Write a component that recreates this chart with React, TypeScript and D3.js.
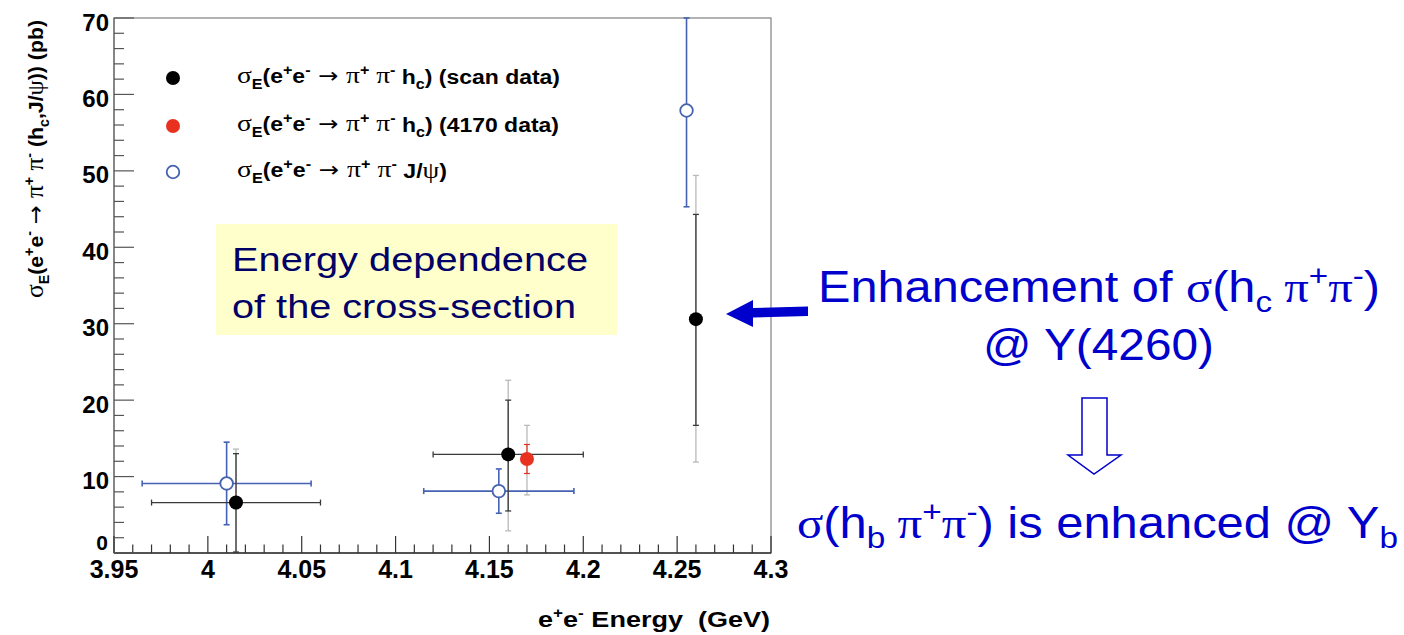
import React from 'react'
import * as d3 from 'd3'

// scan data (black): energy, x half-width, value, stat band, total band
const scanEnergy = [4.015, 4.16, 4.26]
const scanXErr = [0.045, 0.04, 0]
const scanSigma = [6.6, 12.9, 30.6]
const scanStatLo = [0.1, 5.5, 16.7]
const scanStatHi = [13.0, 20.0, 44.3]
const scanTotLo = [0.2, 2.9, 11.9]
const scanTotHi = [13.6, 22.6, 49.4]

// 4170 data (red)
const redEnergy = [4.17]
const redSigma = [12.3]
const redStatLo = [10.4]
const redStatHi = [14.2]
const redTotLo = [7.6]
const redTotHi = [16.7]

// J/psi (blue open)
const jpsiEnergy = [4.01, 4.155, 4.255]
const jpsiXErr = [0.045, 0.04, 0]
const jpsiSigma = [9.1, 8.1, 57.9]
const jpsiLo = [3.7, 5.2, 45.3]
const jpsiHi = [14.5, 11.0, 70]

const xTickLabels = ['3.95', '4', '4.05', '4.1', '4.15', '4.2', '4.25', '4.3']
const yTickLabels = ['0', '10', '20', '30', '40', '50', '60', '70']

const W = 1404
const H = 635
const left = 114, right = 771, top = 18, bottom = 553

const sans = 'Liberation Sans, Arial, Helvetica, sans-serif'
const serif = 'Liberation Serif, Times New Roman, serif'
const arrowFont = 'DejaVu Sans, sans-serif'
const BLUE = '#4562b3'
const RED = '#e8321f'
const GRAY = '#b9b9b9'
const TXTBLUE = '#0000cc'

const x = d3.scaleLinear().domain([3.95, 4.3]).range([left, right])
const y = d3.scaleLinear().domain([0, 70]).range([bottom, top])

function ErrBar({ cx, cy, xLo, xHi, yLo, yHi, color, sw, cap }: any) {
  const c = cap / 2
  return (
    <g stroke={color} strokeWidth={sw} fill="none">
      {yLo != null && (
        <>
          <line x1={cx} x2={cx} y1={y(yLo)} y2={y(yHi)} />
          <line x1={cx - c} x2={cx + c} y1={y(yLo)} y2={y(yLo)} />
          <line x1={cx - c} x2={cx + c} y1={y(yHi)} y2={y(yHi)} />
        </>
      )}
      {xLo != null && xHi > xLo && (
        <>
          <line x1={x(xLo)} x2={x(xHi)} y1={cy} y2={cy} />
          <line x1={x(xLo)} x2={x(xLo)} y1={cy - c} y2={cy + c} />
          <line x1={x(xHi)} x2={x(xHi)} y1={cy - c} y2={cy + c} />
        </>
      )}
    </g>
  )
}

// "σ_E(e+e- → π+ π-" prefix as tspans
function SigmaPrefix({ fs }: { fs: number }) {
  const sub = Math.round(fs * 0.68)
  const up = Math.round(fs * 0.42)
  const dn = Math.round(fs * 0.3)
  return (
    <>
      <tspan fontFamily={serif} fontWeight="normal" fontSize={fs * 1.2}>σ</tspan>
      <tspan fontSize={sub} dy={dn}>E</tspan>
      <tspan dy={-dn}>(e</tspan>
      <tspan fontSize={sub} dy={-up}>+</tspan>
      <tspan dy={up}>e</tspan>
      <tspan fontSize={sub} dy={-up}>-</tspan>
      <tspan dy={up} fontFamily={arrowFont} fontWeight="normal" fontSize={fs * 1.05}> → </tspan>
      <tspan fontFamily={serif} fontWeight="normal" fontSize={fs * 1.2}>π</tspan>
      <tspan fontSize={sub} dy={-up}>+</tspan>
      <tspan dy={up} fontFamily={serif} fontWeight="normal" fontSize={fs * 1.2}> π</tspan>
      <tspan fontSize={sub} dy={-up}>-</tspan>
    </>
  )
}

function LegendRow({ ly, kind, len, children }: any) {
  return (
    <g>
      {kind === 'black' && <circle cx={173} cy={ly} r={7} fill="#000" />}
      {kind === 'red' && <circle cx={173} cy={ly} r={7} fill={RED} />}
      {kind === 'blue' && <circle cx={173} cy={ly} r={6.3} fill="#fff" stroke={BLUE} strokeWidth={1.8} />}
      <text x={237} y={ly + 5} fontFamily={sans} fontWeight="bold" fontSize={20} fill="#000"
        textLength={len} lengthAdjust="spacingAndGlyphs">
        <SigmaPrefix fs={20} />
        {children}
      </text>
    </g>
  )
}

export default function App() {
  const xMinor = d3.range(0, 36).map(i => 3.95 + i * 0.01)
  const yMinor = d3.range(0, 36).map(i => i * 2)
  const sub = 14, up = 9, dn = 6

  return (
    <svg width={W} height={H} style={{ position: 'absolute', left: 0, top: 0, background: '#fff' }}>
      <rect width={W} height={H} fill="#fff" />

      {/* frame */}
      <rect x={left} y={top} width={right - left} height={bottom - top} fill="none" stroke="#8a8a8a" strokeWidth={1.3} />
      <line x1={left} x2={right} y1={bottom} y2={bottom} stroke="#333" strokeWidth={1.5} />
      <line x1={left} x2={left} y1={top} y2={bottom} stroke="#777" strokeWidth={1.5} />

      {/* x ticks */}
      {xMinor.map((v, i) => (
        <line key={'xt' + i} x1={x(v)} x2={x(v)} y1={bottom} y2={bottom - (i % 5 === 0 ? 17 : 8.5)} stroke="#333" strokeWidth={1.2} />
      ))}
      {/* y ticks */}
      {yMinor.map((v, i) => (
        <line key={'yt' + i} x1={left} x2={left + (i % 5 === 0 ? 20 : 10)} y1={y(v)} y2={y(v)} stroke="#555" strokeWidth={1.2} />
      ))}

      {xTickLabels.map(t => (
        <text key={'xl' + t} x={x(+t)} y={578} textAnchor="middle" fontFamily={sans} fontWeight="bold" fontSize={25} fill="#000">{t}</text>
      ))}
      {yTickLabels.map(t => (
        <text key={'yl' + t} x={t === '0' ? 108 : 109} y={y(+t) + (t === '0' ? -3 : 12.5)} textAnchor="end" fontFamily={sans} fontWeight="bold" fontSize={t === '0' ? 21 : 24} fill="#000">{t}</text>
      ))}

      {/* axis titles */}
      <text x={770} y={627} textAnchor="end" fontFamily={sans} fontWeight="bold" fontSize={22} fill="#000"
        textLength={232} lengthAdjust="spacingAndGlyphs">
        e<tspan fontSize={sub} dy={-up}>+</tspan><tspan dy={up}>e</tspan><tspan fontSize={sub} dy={-up}>-</tspan>
        <tspan dy={up} xmlSpace="preserve"> Energy  (GeV)</tspan>
      </text>
      <g transform="translate(43,298) rotate(-90)">
        <text x={0} y={0} fontFamily={sans} fontWeight="bold" fontSize={21} fill="#000" textLength={278} lengthAdjust="spacingAndGlyphs">
          <SigmaPrefix fs={21} />
          <tspan dy={9}> (h</tspan>
          <tspan fontSize={14} dy={6}>c</tspan>
          <tspan dy={-6}>,J/</tspan>
          <tspan fontFamily={serif} fontWeight="normal" fontSize={24}>ψ</tspan>
          <tspan>)) (pb)</tspan>
        </text>
      </g>

      {/* annotation box */}
      <rect x={216} y={224} width={401} height={111} fill="#ffffcc" />
      <text x={232} y={271} fontFamily={sans} fontSize={34} fill="#000066" textLength={356} lengthAdjust="spacingAndGlyphs">Energy dependence</text>
      <text x={232} y={318} fontFamily={sans} fontSize={34} fill="#000066" textLength={344} lengthAdjust="spacingAndGlyphs">of the cross-section</text>

      {/* legend */}
      <LegendRow ly={78} kind="black" len={323}>
        <tspan dy={up}> h</tspan><tspan fontSize={sub} dy={dn - 1}>c</tspan><tspan dy={-dn + 1}>) (scan data)</tspan>
      </LegendRow>
      <LegendRow ly={126} kind="red" len={322}>
        <tspan dy={up}> h</tspan><tspan fontSize={sub} dy={dn - 1}>c</tspan><tspan dy={-dn + 1}>) (4170 data)</tspan>
      </LegendRow>
      <LegendRow ly={172} kind="blue" len={210}>
        <tspan dy={up}> J/</tspan><tspan fontFamily={serif} fontWeight="normal" fontSize={23}>ψ</tspan><tspan>)</tspan>
      </LegendRow>

      {/* total (systematic) error bars in gray */}
      {scanEnergy.map((e, i) => (
        <ErrBar key={'sg' + i} cx={x(e)} cy={y(scanSigma[i])} yLo={scanTotLo[i]} yHi={scanTotHi[i]} color={GRAY} sw={1.3} cap={6} />
      ))}
      {redEnergy.map((e, i) => (
        <ErrBar key={'rg' + i} cx={x(e)} cy={y(redSigma[i])} yLo={redTotLo[i]} yHi={redTotHi[i]} color={GRAY} sw={1.3} cap={6} />
      ))}

      {/* J/psi */}
      {jpsiEnergy.map((e, i) => (
        <ErrBar key={'jb' + i} cx={x(e)} cy={y(jpsiSigma[i])} yLo={jpsiLo[i]} yHi={jpsiHi[i]}
          xLo={e - jpsiXErr[i]} xHi={e + jpsiXErr[i]} color={BLUE} sw={1.6} cap={6} />
      ))}
      {/* scan stat */}
      {scanEnergy.map((e, i) => (
        <ErrBar key={'sb' + i} cx={x(e)} cy={y(scanSigma[i])} yLo={scanStatLo[i]} yHi={scanStatHi[i]}
          xLo={e - scanXErr[i]} xHi={e + scanXErr[i]} color="#3a3a3a" sw={1.3} cap={6} />
      ))}
      {redEnergy.map((e, i) => (
        <ErrBar key={'rb' + i} cx={x(e)} cy={y(redSigma[i])} yLo={redStatLo[i]} yHi={redStatHi[i]} color={RED} sw={1.2} cap={6} />
      ))}

      {jpsiEnergy.map((e, i) => (
        <circle key={'jm' + i} cx={x(e)} cy={y(jpsiSigma[i])} r={6.3} fill="#fff" stroke={BLUE} strokeWidth={1.8} />
      ))}
      {scanEnergy.map((e, i) => (
        <circle key={'sm' + i} cx={x(e)} cy={y(scanSigma[i])} r={7} fill="#000" />
      ))}
      {redEnergy.map((e, i) => (
        <circle key={'rm' + i} cx={x(e)} cy={y(redSigma[i])} r={7} fill={RED} />
      ))}

      {/* annotations on the right */}
      <polygon points="726,314 753,300 753,308 808,306.5 808,316 753,317.5 753,327" fill={TXTBLUE} />
      <text x={818} y={302} fontFamily={sans} fontSize={44} fill={TXTBLUE} textLength={562} lengthAdjust="spacingAndGlyphs">
        Enhancement of <tspan fontFamily={serif}>σ</tspan>(h<tspan fontSize={30} dy={10}>c</tspan>
        <tspan dy={-10} fontFamily={serif}> π</tspan><tspan fontSize={30} dy={-16}>+</tspan>
        <tspan dy={16} fontFamily={serif}>π</tspan><tspan fontSize={30} dy={-16}>-</tspan><tspan dy={16}>)</tspan>
      </text>
      <text x={983} y={360} fontFamily={sans} fontSize={44} fill={TXTBLUE} textLength={231} lengthAdjust="spacingAndGlyphs">@ Y(4260)</text>
      <polygon points="1082,398 1107,398 1107,455 1121,455 1094,474 1068,455 1082,455" fill="#fff" stroke={TXTBLUE} strokeWidth={1.5} />
      <text x={797} y={538} fontFamily={sans} fontSize={44} fill={TXTBLUE} textLength={601} lengthAdjust="spacingAndGlyphs">
        <tspan fontFamily={serif}>σ</tspan>(h<tspan fontSize={30} dy={10}>b</tspan>
        <tspan dy={-10} fontFamily={serif}> π</tspan><tspan fontSize={30} dy={-16}>+</tspan>
        <tspan dy={16} fontFamily={serif}>π</tspan><tspan fontSize={30} dy={-16}>-</tspan>
        <tspan dy={16}>) is enhanced @ Y</tspan><tspan fontSize={30} dy={10}>b</tspan>
      </text>
    </svg>
  )
}
